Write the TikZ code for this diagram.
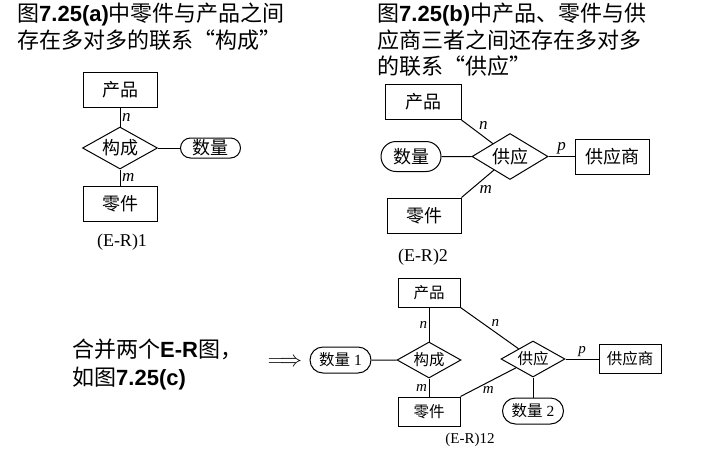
\RequirePackage{fix-cm}
\documentclass[tikz,border=0pt]{standalone}
\usepackage{fontspec}
\setmainfont{Liberation Serif}
\newfontfamily\cjk{Noto Sans CJK SC}
\newfontfamily\arialf{Liberation Sans}
\usetikzlibrary{shapes.geometric, shapes.misc, arrows.meta, positioning}

\newcommand{\fsz}[1]{\fontsize{#1}{#1}\selectfont}
\newcommand{\lat}[1]{{\arialf\bfseries #1}}

\begin{document}
\begin{tikzpicture}[x=1pt, y=-1pt,
    ent/.style={rectangle, draw, line width=1pt, minimum width=74pt, minimum height=35pt, inner sep=0pt, font=\fsz{18}\cjk},
    rel/.style={diamond, draw, line width=1pt, inner sep=0pt, aspect=1.8, minimum width=75pt, minimum height=42pt, font=\fsz{18}\cjk},
    attr/.style={rounded rectangle, draw, line width=1pt, inner sep=0pt, minimum width=60pt, minimum height=20pt, font=\fsz{18}\cjk},
    ment/.style={ent, minimum width=62pt, minimum height=29pt, font=\fsz{15.5}\cjk},
    mrel/.style={rel, minimum width=64pt, minimum height=36pt, font=\fsz{15.5}\cjk},
    mattr/.style={attr, minimum width=61pt, minimum height=26pt, font=\fsz{15.5}},
    card/.style={font=\fsz{17}\itshape, inner sep=1.5pt},
    mcard/.style={card, font=\fsz{15}\itshape},
    figcap/.style={font=\fsz{18}, inner sep=0pt},
    title/.style={align=left, anchor=north west, inner sep=0pt, font=\fontsize{22}{26.5}\selectfont},
    link/.style={line width=1pt}
]
\useasboundingbox (0,0) rectangle (713,451);

% Titles
\node (ta) [title] at (17,3) {{\cjk 图}\lat{7.25(a)}{\cjk 中零件与产品之间}\\{\cjk 存在多对多的联系“构成”}};
\node (tb) [title] at (377,3) {{\cjk 图}\lat{7.25(b)}{\cjk 中产品、零件与供}\\{\cjk 应商三者之间还存在多对多}\\{\cjk 的联系“供应”}};
\node (tc) [title, font=\fontsize{22}{28}\selectfont] at (72,339) {{\cjk 合并两个}\lat{E-R}{\cjk 图，}\\{\cjk 如图}\lat{7.25(c)}};

% (E-R)1
\node (gc1) [rel] at (120,148) {构成};
\node (cp1) [ent, above=19pt of gc1] {产品};
\node (lj1) [ent, below=16pt of gc1] {零件};
\node (sl1) [attr, right=22pt of gc1] {数量};
\node (er1) [figcap] at (122,242) {(E-R)1};

\draw [link] (cp1) -- node[card, right] {n} (gc1);
\draw [link] (gc1) -- node[card, right] {m} (lj1);
\draw [link] (gc1) -- (sl1);

% (E-R)2
\node (gy2) [rel, minimum width=76pt, minimum height=46pt] at (510,156.5) {供应};
\node (gys2) [ent, right=26pt of gy2] {供应商};
\node (sl2) [attr, minimum height=30pt, left=30pt of gy2] {数量};
\node (cp2) [ent, minimum width=76pt] at (423,102) {产品};
\node (lj2) [ent] at (424,215.5) {零件};
\node (er2) [figcap] at (423,257) {(E-R)2};

\draw [link] (cp2.south east) -- node[card, above right] {n} (gy2);
\draw [link] (lj2.north east) -- node[card, below right] {m} (gy2);
\draw [link] (sl2) -- (gy2);
\draw [link] (gy2) -- node[card, above] {p} (gys2);

% merge arrow
\node (imp) [font=\fsz{22}, inner sep=0pt] at (285,362) {$\Longrightarrow$};

% (E-R)12
\node (gc3) [mrel] at (429,360) {构成};
\node (cp3) [ment, above=34pt of gc3] {产品};
\node (lj3) [ment, below=18pt of gc3] {零件};
\node (sl3a) [mattr, left=25pt of gc3] {{\cjk 数量} 1};
\node (gy3) [mrel] at (533,359) {供应};
\node (gys3) [ment, right=33pt of gy3] {供应商};
\node (sl3b) [mattr, below=20pt of gy3] {{\cjk 数量} 2};
\node (er3) [figcap, font=\fsz{15}] at (470,440) {(E-R)12};

\draw [link] (cp3) -- node[mcard, left] {n} (gc3);
\draw [link] (gc3) -- node[mcard, left] {m} (lj3);
\draw [link] (sl3a) -- (gc3);
\draw [link] (cp3.south east) -- node[mcard, above right] {n} (gy3);
\draw [link] (lj3.north east) -- node[mcard, below=2pt] {m} (gy3);
\draw [link] (gy3) -- node[mcard, above] {p} (gys3);
\draw [link] (gy3) -- (sl3b);

\end{tikzpicture}
\end{document}
